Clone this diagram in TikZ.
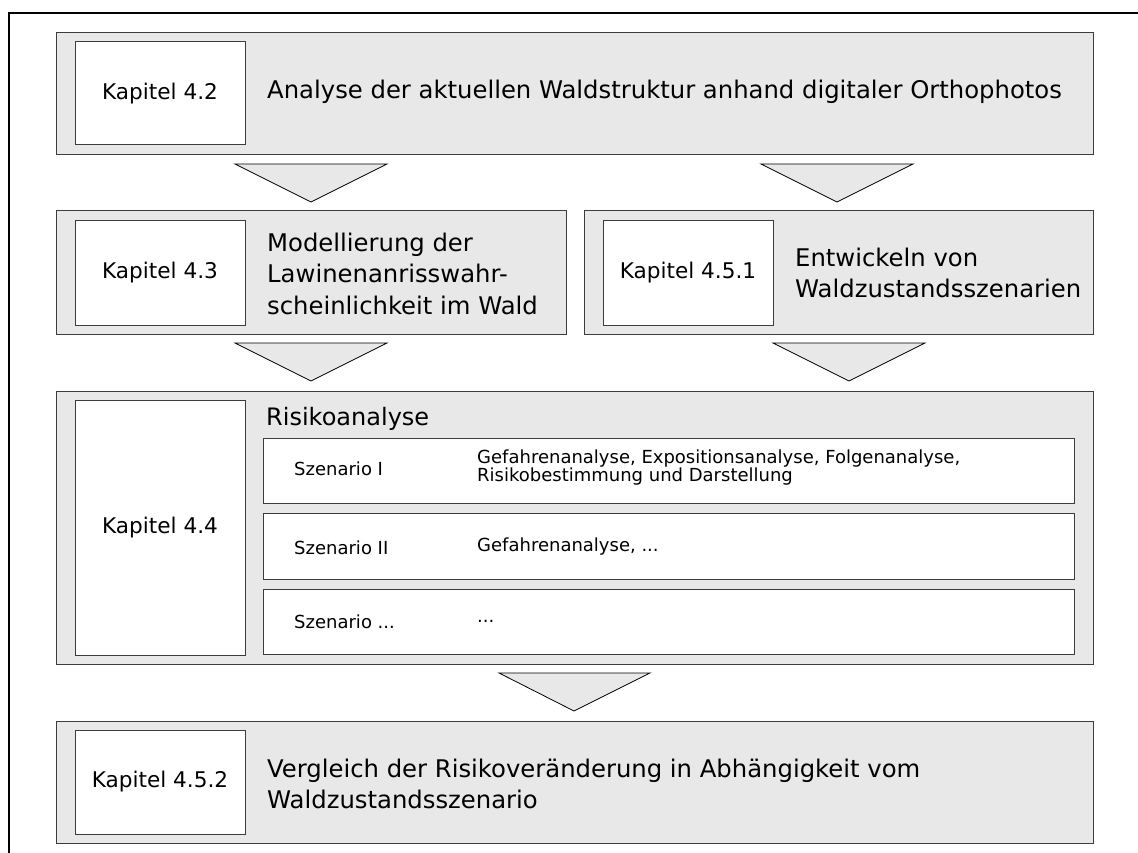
\documentclass[tikz,border=0pt]{standalone}
\usepackage{fontspec}
\setmainfont{DejaVu Sans}
\usetikzlibrary{fit}
\definecolor{boxgray}{RGB}{232,232,232}
\definecolor{linegray}{RGB}{60,60,60}
\tikzset{
  gbox/.style={draw=linegray, fill=boxgray, line width=1pt, inner sep=0pt, rectangle},
  wbox/.style={draw=linegray, fill=white, line width=1pt, inner sep=0pt, rectangle},
  tri/.style={draw=black, fill=boxgray, line width=0.8pt, line join=miter},
  bigtxt/.style={anchor=west, inner sep=0pt, align=left, font=\fontsize{24.3}{31.5}\selectfont},
  kaptxt/.style={inner sep=0pt, font=\fontsize{21.6}{25}\selectfont},
  smalltxt/.style={anchor=west, inner sep=0pt, align=left, font=\fontsize{18}{17.8}\selectfont}
}
\begin{document}
\begin{tikzpicture}[x=1pt,y=-1pt]
\useasboundingbox (0,0) rectangle (1138,853);
% outer frame (only top and left edges visible)
\draw[black, line width=1.3pt] (9,870) -- (9,13) -- (1150,13);

% row 1
\node[gbox, fit={(56,33) (1093,155)}] (b1) {};
\node[wbox, fit={(75,42) (245,145)}] (k1) {};
\node[kaptxt] at (k1.center) {Kapitel 4.2};
\node[bigtxt] (t1) at (267,92) {Analyse der aktuellen Waldstruktur anhand digitaler Orthophotos};

% triangles row 1
\draw[tri] (235,164) -- (387,164) -- (311,202) -- cycle;
\draw[tri] (761,164) -- (913,164) -- (837,202) -- cycle;

% row 2
\node[gbox, fit={(56,211) (566,334)}] (b2) {};
\node[wbox, fit={(75,221) (245,325)}] (k2) {};
\node[kaptxt] at (k2.center) {Kapitel 4.3};
\node[bigtxt] (t2) at (267,273.5) {Modellierung der\\Lawinenanrisswahr-\\scheinlichkeit im Wald};

\node[gbox, fit={(584,211) (1093,334)}] (b3) {};
\node[wbox, fit={(603,221) (773,325)}] (k3) {};
\node[kaptxt] at (k3.center) {Kapitel 4.5.1};
\node[bigtxt] (t3) at (795,273) {Entwickeln von\\Waldzustandsszenarien};

% triangles row 2
\draw[tri] (235,343) -- (387,343) -- (311,381) -- cycle;
\draw[tri] (773,343) -- (925,343) -- (849,381) -- cycle;

% row 3
\node[gbox, fit={(56,391) (1093,664)}] (b4) {};
\node[wbox, fit={(75,400) (245,655)}] (k4) {};
\node[kaptxt] at (k4.center) {Kapitel 4.4};
\node[bigtxt, font=\fontsize{24}{26}\selectfont] (t4) at (266,419) {Risikoanalyse};

\node[wbox, fit={(263,438) (1074,503)}] (s1) {};
\node[smalltxt] at (294,469) {Szenario I};
\node[smalltxt] at (477,467.5) {Gefahrenanalyse, Expositionsanalyse, Folgenanalyse,\\Risikobestimmung und Darstellung};

\node[wbox, fit={(263,513) (1074,579)}] (s2) {};
\node[smalltxt] at (294,548) {Szenario II};
\node[smalltxt] at (477,547) {Gefahrenanalyse, ...};

\node[wbox, fit={(263,589) (1074,654)}] (s3) {};
\node[smalltxt] at (294,622) {Szenario ...};
\node[smalltxt] at (477,621) {...};

% triangle row 3
\draw[tri] (499,673) -- (650,673) -- (574,711) -- cycle;

% row 4
\node[gbox, fit={(56,721) (1093,843)}] (b5) {};
\node[wbox, fit={(75,730) (245,834)}] (k5) {};
\node[kaptxt] at (k5.center) {Kapitel 4.5.2};
\node[bigtxt] (t5) at (267,784) {Vergleich der Risikoveränderung in Abhängigkeit vom\\Waldzustandsszenario};
\end{tikzpicture}
\end{document}
